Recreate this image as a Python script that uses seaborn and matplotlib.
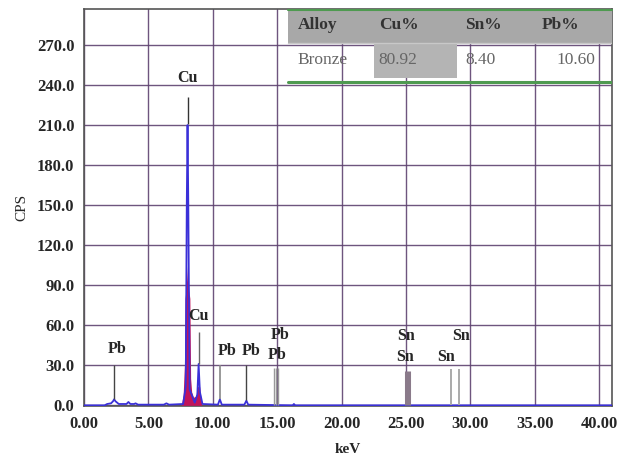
import matplotlib
matplotlib.use("Agg")
import matplotlib.pyplot as plt
import seaborn as sns
from matplotlib.patches import Rectangle

sns.set_style("white")
plt.rcParams['font.family'] = ['Liberation Serif', 'DejaVu Serif']

# measured spectrum (blue trace)
spec_kev = [0.0, 1.6, 1.8, 2.1, 2.25, 2.34, 2.45, 2.7, 3.3, 3.45, 3.6, 3.9, 4.0, 4.2,
            6.2, 6.4, 6.6, 7.7, 7.9, 7.98, 8.04, 8.1, 8.2, 8.6, 8.8, 8.9, 9.0, 9.2,
            10.4, 10.55, 10.7, 12.45, 12.61, 12.75, 16.2, 16.3, 16.4, 41.0]
spec_cps = [0.0, 0.0, 1.0, 1.5, 3.0, 4.5, 3.0, 1.0, 1.0, 2.5, 1.0, 1.0, 1.5, 0.5,
            0.5, 1.5, 0.5, 1.0, 14.0, 150.0, 210.0, 150.0, 12.0, 2.0, 8.0, 31.0, 10.0, 1.0,
            0.5, 4.5, 0.5, 0.5, 3.5, 0.5, 0.0, 1.0, 0.0, 0.0]

# Cu element fit (red fill)
cu_kev = [7.55, 7.7, 7.8, 7.84, 7.92, 8.04, 8.14, 8.22, 8.28, 8.36, 8.5, 8.7, 8.76,
          8.82, 8.98, 9.05, 9.15]
cu_cps = [0.0, 8.0, 30.0, 80.0, 86.0, 105.0, 86.0, 80.0, 20.0, 10.0, 6.0, 7.0, 12.0,
          14.0, 14.0, 8.0, 0.0]

# peak markers: position, line bottom, line top
mark_kev = [8.04, 8.90, 2.34, 10.55, 12.61, 14.76, 14.9, 15.1, 25.04, 25.2, 28.49, 29.10]
mark_lo = [211, 31, 5, 5, 4, 0, 0, 0, 0, 0, 0, 0]
mark_hi = [231, 55, 30, 30, 30, 28, 28, 28, 26, 26, 27, 27]
mark_col = ['#333333', '#666666', '#444444', '#888888', '#444444',
            '#999999', '#999999', '#999999', '#8a7a8a', '#8a7a8a', '#aaaaaa', '#aaaaaa']
mark_lw = [1, 1, 1, 1.2, 1, 1.0, 1.0, 1.0, 2.2, 2.2, 1.4, 1.4]
# peak labels: text, position, height
label_txt = ['Cu', 'Cu', 'Pb', 'Pb', 'Pb', 'Pb', 'Pb', 'Sn', 'Sn', 'Sn', 'Sn']
label_kev = [8.0, 8.9, 2.6, 11.1, 13.0, 15.2, 15.0, 25.0, 24.9, 28.1, 29.3]
label_cps = [245, 67, 42, 41, 41, 53, 38, 52, 36, 36, 52]

# alloy composition table
table_cols = ['Alloy', 'Cu%', 'Sn%', 'Pb%']
table_row = ['Bronze', '80.92', '8.40', '10.60']

fig = plt.figure(figsize=(6.19, 4.59), dpi=100)
ax = fig.add_axes([0.1357, 0.1155, 0.853, 0.865])

grid_c = '#5e4270'
ax.set_xlim(0, 41.0)
ax.set_ylim(-0.5, 297)
ax.set_xticks([0, 5, 10, 15, 20, 25, 30, 35, 40])
ax.set_xticklabels(['%.2f' % v for v in [0, 5, 10, 15, 20, 25, 30, 35, 40]])
ax.set_yticks(range(0, 271, 30))
ax.set_yticklabels(['%.1f' % v for v in range(0, 271, 30)])
ax.grid(True, color=grid_c, linewidth=1.0, alpha=0.9)
ax.set_axisbelow(True)
for s in ax.spines.values():
    s.set_color('#555555')
    s.set_linewidth(1.2)
ax.tick_params(axis='both', length=6, width=1, color='#333333', direction='out',
               labelsize=12, pad=1)
for t in ax.get_xticklabels() + ax.get_yticklabels():
    t.set_fontweight('bold')
ax.set_xlabel('keV', fontsize=11, fontweight='bold', labelpad=8)
ax.set_ylabel('CPS', fontsize=11, labelpad=6)

ax.fill_between(cu_kev, cu_cps, color='#c0145a', lw=0, zorder=3)
sns.lineplot(x=spec_kev, y=spec_cps, ax=ax, color='#3a30d8', lw=1.3, zorder=4,
             estimator=None, sort=False)

ax.vlines(mark_kev, mark_lo, mark_hi, colors=mark_col, linewidths=mark_lw, zorder=5)
for txt, kx, cy in zip(label_txt, label_kev, label_cps):
    ax.text(kx, cy, txt, ha='center', va='center', fontsize=11.5, fontweight='bold',
            zorder=6)

# table in the top right corner (axes fraction coordinates)
tr = ax.transAxes
x0, x1 = 0.3866, 1.0
y_top, y_mid, y_bot = 0.9975, 0.914, 0.816
ax.add_patch(Rectangle((x0, y_mid), x1 - x0, y_top - y_mid, transform=tr,
                       facecolor='#a8a8a8', edgecolor='none', zorder=7))
ax.add_patch(Rectangle((0.5485, y_bot + 0.01), 0.1585, y_mid - y_bot - 0.01,
                       transform=tr, facecolor='#b4b4b4', edgecolor='none', zorder=7))
ax.plot([x0, x1], [y_top, y_top], transform=tr, color='#4e9a50', lw=1.5, zorder=8,
        clip_on=False)
ax.plot([x0, x1], [y_mid, y_mid], transform=tr, color='#c8c8c8', lw=1, zorder=8)
ax.plot([x0, x1], [y_bot, y_bot], transform=tr, color='#4e9a50', lw=2.2, zorder=8)
col_x = [0.405, 0.558, 0.722, 0.866]
for cx, h in zip(col_x, table_cols):
    ax.text(cx, 0.96, h, transform=tr, ha='left', va='center',
            fontsize=12.5, fontweight='bold', color='#333333', zorder=9)
row_x = [0.405, 0.558, 0.722, 0.968]
row_ha = ['left', 'left', 'left', 'right']
for cx, v, ha in zip(row_x, table_row, row_ha):
    ax.text(cx, 0.872, v, transform=tr, ha=ha, va='center',
            fontsize=12.5, color='#666666', zorder=9)

fig.savefig('out.png', dpi=100)
